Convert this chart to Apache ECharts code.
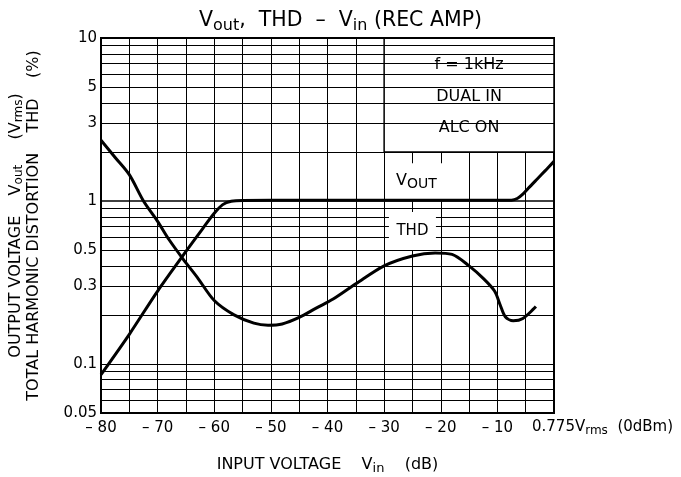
<!DOCTYPE html>
<html><head><meta charset="utf-8">
<script src="https://cdn.jsdelivr.net/npm/echarts@6/dist/echarts.min.js"></script>
<style>html,body{margin:0;padding:0;background:#fff}#c{width:681px;height:477px}</style>
</head><body><div id="c"></div>
<script>
// ---- data ----
const voutDb = [-80, -75, -70, -65, -62, -60, -58.5, -57, -55, -50, -40, -30, -20, -10, -7.5, -6.5, -5.5, -4.5, -3, -1.5, 0];
const voutV  = [0.086, 0.152, 0.28, 0.49, 0.68, 0.84, 0.95, 0.995, 1.008, 1.01, 1.01, 1.01, 1.01, 1.01, 1.012, 1.035, 1.1, 1.2, 1.36, 1.54, 1.75];
const thdDb = [-80, -77.5, -75, -72.5, -70, -68, -65.5, -63, -60, -56.5, -53, -50.5, -48, -45, -42, -39, -35, -30, -25, -21, -18, -15, -12.5, -10.5, -9.5, -8.6, -7.2, -5.5, -3.2];
const thdV  = [2.36, 1.85, 1.45, 1.0, 0.75, 0.58, 0.44, 0.34, 0.245, 0.2, 0.178, 0.173, 0.176, 0.193, 0.22, 0.25, 0.31, 0.4, 0.46, 0.48, 0.47, 0.4, 0.335, 0.28, 0.23, 0.195, 0.184, 0.19, 0.225];
const xTickValues = [-80, -70, -60, -50, -40, -30, -20, -10, 0];
const xZeroLabel = ['0.775V', 'rms', '  (0dBm)'];
const yGridValues = [10, 9, 8, 7, 6, 5, 4, 3, 2, 1, 0.9, 0.8, 0.7, 0.6, 0.5, 0.4, 0.3, 0.2, 0.1, 0.09, 0.08, 0.07, 0.06, 0.05];
const yTickLabels = ['10', '5', '3', '1', '0.5', '0.3', '0.1', '0.05'];
const conditionLines = ['f = 1kHz', 'DUAL IN', 'ALC ON'];
const boxRange = { x: [-30, 0], y: [2, 10] };

const F = 'DejaVu Sans';
const chart = echarts.init(document.getElementById('c'), null, { renderer: 'canvas' });

const gridLineData = yGridValues.map(v => {
  const lbl = yTickLabels.indexOf(String(v)) >= 0;
  return {
    yAxis: v,
    lineStyle: { color: '#000', width: v === 1 ? 1.6 : 1, type: 'solid' },
    label: lbl ? { show: true, position: 'start', formatter: String(v), distance: 4,
                   fontFamily: F, fontSize: 15, color: '#000' } : { show: false }
  };
});

const subRich = {
  a: { fontFamily: F, fontSize: 15, lineHeight: 18, color: '#000' },
  s: { fontFamily: F, fontSize: 12, lineHeight: 11, padding: [7, 0, 0, 0], color: '#000' }
};

const option = {
  backgroundColor: '#fff',
  animation: false,
  title: {
    left: 'center', top: 2,
    text: '{m|V}{s|out}{m|,  THD  –  V}{s|in}{m| (REC AMP)}',
    textStyle: {
      fontFamily: F, color: '#000', fontWeight: 'normal',
      rich: {
        m: { fontFamily: F, fontSize: 20.5, lineHeight: 27, color: '#000', fontWeight: 'normal' },
        s: { fontFamily: F, fontSize: 16, lineHeight: 17, padding: [10, 0, 0, 0], color: '#000', fontWeight: 'normal' }
      }
    }
  },
  grid: { left: 101, right: 127, top: 38, bottom: 64, show: true, borderColor: '#000', borderWidth: 2, backgroundColor: 'transparent', outerBoundsMode: 'none' },
  xAxis: {
    type: 'value', min: -80, max: 0, interval: 10,
    axisLine: { show: true, onZero: false, lineStyle: { color: '#000', width: 2 } },
    axisTick: { show: false },
    minorTick: { show: false, splitNumber: 2 },
    splitLine: { show: true, lineStyle: { color: '#000', width: 1 } },
    minorSplitLine: { show: true, lineStyle: { color: '#000', width: 1 } },
    axisLabel: {
      margin: 6, fontFamily: F, fontSize: 15, color: '#000', lineHeight: 18,
      showMinLabel: true, showMaxLabel: true, hideOverlap: false,
      formatter: v => (Math.abs(v) < 1e-9 || xTickValues.indexOf(v) < 0) ? '' : '– ' + Math.abs(v)
    },
    name: 'INPUT VOLTAGE    V{s|in}    (dB)',
    nameLocation: 'middle', nameGap: 42,
    nameTextStyle: {
      fontFamily: F, fontSize: 16, color: '#000', lineHeight: 20,
      rich: { s: { fontFamily: F, fontSize: 13, lineHeight: 13, padding: [7, 0, 0, 0], color: '#000' } }
    }
  },
  yAxis: {
    type: 'log', logBase: 10, min: 0.05, max: 10,
    axisLine: { show: true, lineStyle: { color: '#000', width: 2 } },
    axisTick: { show: false },
    axisLabel: { show: false },
    splitLine: { show: false },
    name: 'OUTPUT VOLTAGE    V{s|out}     (V{s|rms})\nTOTAL HARMONIC DISTORTION    THD    (%)',
    nameLocation: 'middle', nameRotate: 90, nameGap: 58,
    nameTextStyle: {
      fontFamily: F, fontSize: 16, color: '#000', lineHeight: 18,
      rich: { s: { fontFamily: F, fontSize: 12, lineHeight: 12, padding: [6, 0, 0, 0], color: '#000' } }
    }
  },
  series: [
    {
      name: 'gridlines', type: 'line', data: [], z: 1, silent: true,
      markLine: { silent: true, symbol: 'none', animation: false, data: gridLineData }
    },
    {
      name: 'annotations', type: 'line', data: [], z: 3, silent: true,
      markArea: {
        silent: true,
        itemStyle: { color: '#fff', borderColor: '#000', borderWidth: 1.5 },
        label: {
          show: true, position: 'insideTop', distance: 12,
          formatter: conditionLines.join('\n'),
          fontFamily: F, fontSize: 16, lineHeight: 31.5, color: '#000', align: 'center'
        },
        data: [[{ xAxis: boxRange.x[0], yAxis: boxRange.y[1] }, { xAxis: boxRange.x[1], yAxis: boxRange.y[0] }]]
      },
      markPoint: {
        silent: true, animation: false,
        data: [
          { name: 'VOUT', coord: [-24.3, 1.32], symbol: 'rect', symbolSize: [57, 36],
            itemStyle: { color: '#fff' },
            label: { show: true, position: 'inside', formatter: '{v|V}{o|OUT}',
              rich: {
                v: { fontFamily: F, fontSize: 16, lineHeight: 20, color: '#000' },
                o: { fontFamily: F, fontSize: 14, lineHeight: 14, padding: [6, 0, 0, 0], color: '#000' }
              } } },
          { name: 'THD', coord: [-25.0, 0.655], symbol: 'rect', symbolSize: [47, 38],
            itemStyle: { color: '#fff' },
            label: { show: true, position: 'inside', formatter: 'THD', fontFamily: F, fontSize: 15, color: '#000' } },
          { name: '0dBm', coord: [0, 0.05], symbol: 'rect', symbolSize: 0,
            itemStyle: { color: 'transparent' },
            label: { show: true, position: [-22, 14], align: 'left', verticalAlign: 'middle',
              formatter: '{a|' + xZeroLabel[0] + '}{s|' + xZeroLabel[1] + '}{a|' + xZeroLabel[2] + '}',
              rich: subRich } }
        ]
      }
    },
    {
      name: 'Vout', type: 'line', z: 5, smooth: 0.3, showSymbol: false,
      lineStyle: { color: '#000', width: 3 },
      data: voutDb.map((x, i) => [x, voutV[i]])
    },
    {
      name: 'THD', type: 'line', z: 5, smooth: 0.3, showSymbol: false,
      lineStyle: { color: '#000', width: 3 },
      data: thdDb.map((x, i) => [x, thdV[i]])
    }
  ]
};
chart.setOption(option);
</script>
</body></html>
